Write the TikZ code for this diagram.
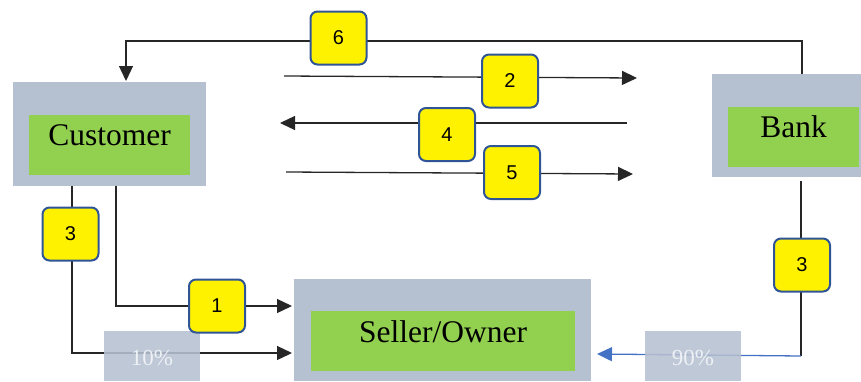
\documentclass[tikz,border=0pt]{standalone}
\usepackage{fontspec}
\setmainfont{Liberation Serif}
\newfontfamily\numfont{Liberation Sans}
\usetikzlibrary{arrows.meta}
\definecolor{boxgrey}{HTML}{B5C0D0}
\definecolor{lgreen}{HTML}{92D050}
\definecolor{nblue}{HTML}{2F5597}
\definecolor{ablue}{HTML}{4472C4}
\definecolor{pcttext}{HTML}{EEF1F5}
\tikzset{
  greybox/.style={fill=boxgrey, draw=none, inner sep=0pt},
  greenbox/.style={fill=lgreen, draw=none, inner sep=0pt, minimum height=60pt},
  lbl/.style={anchor=base, inner sep=0pt, font=\fontsize{31.5}{36}\selectfont},
  pctbox/.style={fill=boxgrey, fill opacity=0.88, draw=none, inner sep=0pt, minimum width=96pt, minimum height=50pt},
  pctlbl/.style={anchor=base, inner sep=0pt, text=pcttext, font=\fontsize{23}{27}\selectfont},
  numbox/.style={fill=yellow, draw=nblue, line width=2pt, rounded corners=7pt, minimum width=56pt, minimum height=53pt, inner sep=0pt, font=\numfont\fontsize{20}{24}\selectfont},
  conn/.style={draw=black!85, line width=1.3pt},
  arr/.style={conn, -{Triangle[length=15pt,width=14pt]}},
  barr/.style={draw=ablue, line width=1.3pt, -{Triangle[length=15pt,width=14pt]}}
}
\begin{document}
\begin{tikzpicture}[x=1pt,y=-1pt]
\useasboundingbox (0,0) rectangle (861,381);
% main boxes
\node[greybox, minimum width=193pt, minimum height=104pt] (cust) at (109.5,134) {};
\node[greenbox, minimum width=161pt] (custin) at (109.5,145) {};
\node[lbl] (custlbl) at (109.5,145) {Customer};
\node[greybox, minimum width=149pt, minimum height=103pt] (bank) at (786.5,125.5) {};
\node[greenbox, minimum width=131pt] (bankin) at (793.5,137) {};
\node[lbl] (banklbl) at (793.5,137) {Bank};
\node[greybox, minimum width=297pt, minimum height=102pt] (seller) at (442.5,330) {};
\node[greenbox, minimum width=264pt] (sellerin) at (443,341) {};
\node[lbl] (sellerlbl) at (443,342) {Seller/Owner};
% coordinates
\coordinate (s6) at (802,74);
\coordinate (t6) at (126,81);
\coordinate (s2) at (284,76);
\coordinate (e2) at (637,78);
\coordinate (s4) at (627,123);
\coordinate (e4) at (280,123);
\coordinate (s5) at (286,172);
\coordinate (e5) at (633,174);
\coordinate (s3l) at (72,186);
\coordinate (e3l) at (292,353);
\coordinate (s1) at (116,186);
\coordinate (e1) at (292,306);
\coordinate (s3r) at (801,181);
\coordinate (c3r) at (801,356);
\coordinate (e3r) at (597,354);
% connectors
\draw[arr] (s6) -- ++(0,-33) -| (t6);
\draw[arr] (s2) -- (e2);
\draw[arr] (s4) -- (e4);
\draw[arr] (s5) -- (e5);
\draw[arr] (s3l) |- (e3l);
\draw[arr] (s1) |- (e1);
\draw[conn] (s3r) -- (c3r);
\draw[barr] (c3r) -- (e3r);
% percentage boxes
\node[pctbox] (p10) at (152,356) {};
\node[pctlbl] (p10l) at (152,365) {10\%};
\node[pctbox] (p90) at (693,356) {};
\node[pctlbl] (p90l) at (693,365) {90\%};
% number boxes
\node[numbox] (n6) at (338.5,38) {6};
\node[numbox] (n2) at (510,81) {2};
\node[numbox] (n4) at (447,134.5) {4};
\node[numbox] (n5) at (512,172.5) {5};
\node[numbox] (n3l) at (70.5,234) {3};
\node[numbox] (n1) at (217,306) {1};
\node[numbox] (n3r) at (802,265) {3};
\end{tikzpicture}
\end{document}
